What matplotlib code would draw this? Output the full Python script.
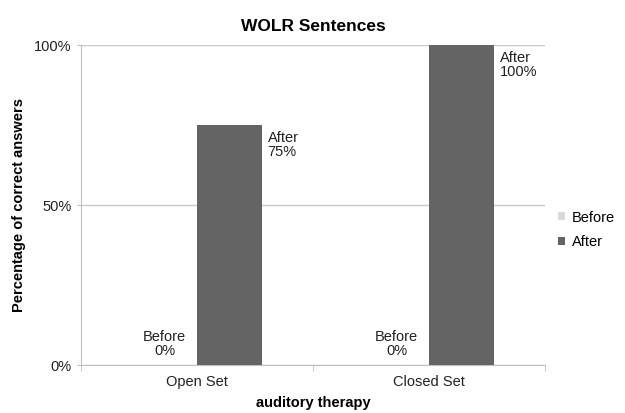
import matplotlib.pyplot as plt
import numpy as np

plt.rcParams['font.family'] = ['Liberation Sans', 'DejaVu Sans']

# Dati
categories = ['Open Set', 'Closed Set']
series = ['Before', 'After']
before = [0, 0]
after = [75, 100]
values = {'Before': before, 'After': after}
colors = {'Before': '#d9d9d9', 'After': '#646464'}

fig = plt.figure(figsize=(6.25, 4.13), dpi=100)
ax = fig.add_axes([0.130, 0.116, 0.742, 0.775])

x = np.arange(len(categories))
w = 0.28
offsets = {'Before': -w / 2, 'After': w / 2}
fs = 10.5

for s in series:
    bars = ax.bar(x + offsets[s], values[s], w, color=colors[s], label=s, zorder=3)
    for b, v in zip(bars, values[s]):
        lbl = f'{s}\n{v:.0f}%'
        if v > 0:
            ax.annotate(lbl, (b.get_x() + b.get_width(), v), xytext=(4, -4),
                        textcoords='offset points', ha='left', va='top',
                        fontsize=fs, color='#222222', linespacing=1.05)
        else:
            ax.annotate(lbl, (b.get_x() + b.get_width() / 2, v), xytext=(0, 5),
                        textcoords='offset points', ha='center', va='bottom',
                        fontsize=fs, color='#222222', linespacing=1.05)

ax.set_xlim(-0.5, 1.5)
ax.set_ylim(0, 100)
ax.set_yticks([0, 50, 100])
ax.set_yticklabels(['0%', '50%', '100%'])
ax.set_xticks(x)
ax.set_xticklabels(categories)
ax.set_xticks([-0.5, 0.5, 1.5], minor=True)
ax.tick_params(axis='x', which='major', length=0, pad=7, labelsize=fs, colors='#222222')
ax.tick_params(axis='x', which='minor', length=4, color='#bfbfbf')
ax.tick_params(axis='y', length=3, pad=4, labelsize=fs, labelcolor='#222222', color='#bfbfbf')

ax.grid(axis='y', color='#c8c8c8', linewidth=1, zorder=0)
for sp in ['top', 'right']:
    ax.spines[sp].set_visible(False)
for sp in ['left', 'bottom']:
    ax.spines[sp].set_color('#bfbfbf')

ax.set_title('WOLR Sentences', fontsize=12.5, fontweight='bold', pad=10)
ax.set_xlabel('auditory therapy', fontsize=fs, fontweight='bold', labelpad=5)
ax.set_ylabel('Percentage of correct answers', fontsize=fs, fontweight='bold', labelpad=5.5)

ax.legend(loc='center left', bbox_to_anchor=(1.0, 0.423), frameon=False, fontsize=fs,
          handlelength=0.45, handleheight=0.45, handletextpad=0.5, labelspacing=0.7)

plt.savefig('out.png', dpi=100)
